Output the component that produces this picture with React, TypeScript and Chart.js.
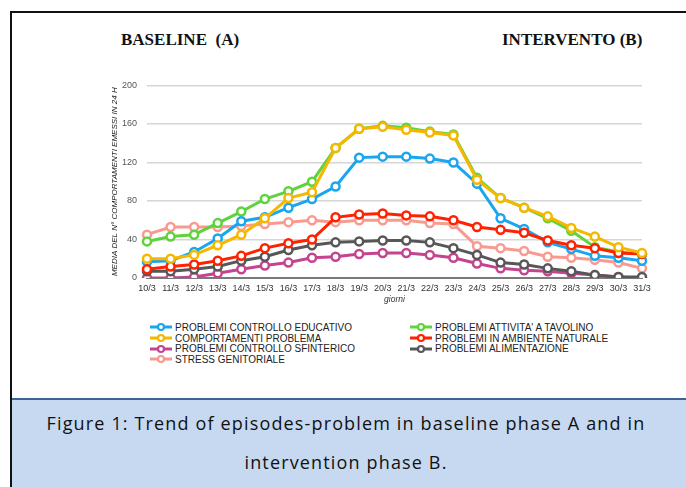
import React, { useEffect, useRef } from "react";
import { Chart, registerables } from "chart.js";
Chart.register(...registerables);

const days = ["10/3","11/3","12/3","13/3","14/3","15/3","16/3","17/3","18/3","19/3","20/3","21/3","22/3","23/3","24/3","25/3","26/3","27/3","28/3","29/3","30/3","31/3"];
const yTicks = [0, 40, 80, 120, 160, 200];

const controlloEducativo = [17, 18, 27, 41, 59, 63, 73, 82, 95, 125, 126, 126, 124, 120, 98, 62, 51, 37, 30, 23, 21, 18];
const attivitaTavolino = [38, 43, 45, 57, 69, 82, 90, 100, 135, 155, 158, 156, 152, 149, 104, 83, 73, 62, 49, 32, 27, 25];
const comportamentiProblema = [20, 20, 24, 34, 45, 62, 83, 89, 135, 155, 157, 154, 151, 148, 102, 83, 73, 64, 52, 43, 32, 26];
const ambienteNaturale = [9, 12, 14, 18, 23, 31, 36, 40, 63, 66, 67, 65, 64, 60, 53, 50, 47, 39, 34, 31, 26, 25];
const controlloSfinterico = [0, 0, 1, 5, 9, 13, 16, 21, 22, 25, 26, 26, 24, 21, 15, 10, 8, 7, 5, 3, 1, 0];
const alimentazione = [7, 7, 9, 12, 18, 22, 29, 34, 37, 38, 39, 39, 37, 31, 24, 16, 14, 10, 7, 3, 1, 1];
const stressGenitoriale = [45, 53, 53, 53, 54, 56, 58, 60, 58, 60, 60, 60, 57, 56, 33, 31, 28, 22, 21, 19, 16, 10];

const seriesNames = [
  "PROBLEMI CONTROLLO EDUCATIVO",
  "PROBLEMI ATTIVITA' A TAVOLINO",
  "COMPORTAMENTI PROBLEMA",
  "PROBLEMI IN AMBIENTE NATURALE",
  "PROBLEMI CONTROLLO SFINTERICO",
  "PROBLEMI ALIMENTAZIONE",
  "STRESS GENITORIALE",
];
const seriesValues = [controlloEducativo, attivitaTavolino, comportamentiProblema, ambienteNaturale, controlloSfinterico, alimentazione, stressGenitoriale];
const seriesColors = ["#1aa6ef", "#5ed33a", "#f5b800", "#ff2200", "#c4448f", "#575757", "#f99a90"];
// drawing order (lower = on top)
const seriesOrder = [4, 6, 1, 2, 5, 3, 7];

const fontSans = "'Liberation Sans', Arial, sans-serif";

function LegendItem({ name, color }: { name: string; color: string }) {
  return (
    <div style={{ display: "flex", alignItems: "center", height: 10.7 }}>
      <svg width={22} height={10} style={{ marginRight: 3 }}>
        <line x1={0} y1={5} x2={22} y2={5} stroke={color} strokeWidth={3} />
        <circle cx={11} cy={5} r={3} fill="#fff" stroke={color} strokeWidth={2.2} />
      </svg>
      <span style={{ fontFamily: fontSans, fontSize: 10, color: "#222", whiteSpace: "nowrap" }}>{name}</span>
    </div>
  );
}

export default function App() {
  const ref = useRef<HTMLCanvasElement | null>(null);
  useEffect(() => {
    if (!ref.current) return;
    const chart = new Chart(ref.current, {
      type: "line",
      data: {
        labels: days,
        datasets: seriesNames.map((n, i) => ({
          label: n,
          data: seriesValues[i],
          borderColor: seriesColors[i],
          backgroundColor: "#ffffff",
          pointBackgroundColor: "#ffffff",
          pointBorderColor: seriesColors[i],
          borderWidth: 3,
          pointRadius: 4,
          pointBorderWidth: 2.5,
          tension: 0,
          order: seriesOrder[i],
        })),
      },
      options: {
        animation: false,
        responsive: false,
        maintainAspectRatio: false,
        layout: { padding: { left: 0, right: 18, top: 12, bottom: 0 } },
        plugins: { legend: { display: false }, tooltip: { enabled: false } },
        scales: {
          x: {
            offset: false,
            grid: { display: false, drawTicks: false },
            border: { display: true, color: "#7a7a7a", width: 2 },
            ticks: { color: "#333", font: { family: fontSans, size: 9 }, padding: 5, maxRotation: 0, autoSkip: false },
            title: { display: true, text: "giorni", color: "#333", font: { family: fontSans, size: 8.5, style: "italic" }, padding: { top: 0, bottom: 5 } },
            afterFit: (s: any) => { s.height = 32; },
          },
          y: {
            min: 0,
            max: 200,
            afterBuildTicks: (s: any) => { s.ticks = yTicks.map((v) => ({ value: v })); },
            grid: { color: "#d6d6d6", lineWidth: 1.5, drawTicks: false },
            border: { display: false },
            ticks: { color: "#555", font: { family: fontSans, size: 9 }, padding: 10 },
            title: { display: true, text: "MEDIA DEL N° COMPORTAMENTI EMESSI IN 24 H", color: "#222", font: { family: fontSans, size: 8, style: "italic" }, padding: { top: 10, bottom: 2 } },
            afterFit: (s: any) => { s.width = 47; },
          },
        },
      },
    });
    return () => chart.destroy();
  }, []);

  const leftCol = [0, 2, 4, 6];
  const rightCol = [1, 3, 5];
  const captionStyle: React.CSSProperties = { position: "absolute", left: 3, width: 686, textAlign: "center", fontFamily: "'Open Sans', sans-serif", fontSize: 18, letterSpacing: 1.15, color: "#111", whiteSpace: "nowrap" };
  const headStyle: React.CSSProperties = { position: "absolute", top: 30, fontFamily: "'Liberation Serif', serif", fontWeight: "bold", fontSize: 17, color: "#111", whiteSpace: "nowrap" };

  return (
    <div style={{ position: "fixed", left: 0, top: 0, width: 686, height: 487, overflow: "hidden", background: "#fff" }}>
      <div style={{ position: "absolute", left: 10, top: 11, width: 700, height: 500, borderLeft: "2px solid #111", borderTop: "2px solid #111" }} />
      <div style={{ ...headStyle, left: 121 }}>BASELINE&nbsp; (A)</div>
      <div style={{ ...headStyle, left: 502 }}>INTERVENTO (B)</div>
      <canvas ref={ref} width={560} height={240} style={{ position: "absolute", left: 100, top: 70, width: 560, height: 240 }} />
      <div style={{ position: "absolute", left: 150, top: 322 }}>
        {leftCol.map((i) => <LegendItem key={i} name={seriesNames[i]} color={seriesColors[i]} />)}
      </div>
      <div style={{ position: "absolute", left: 410, top: 322 }}>
        {rightCol.map((i) => <LegendItem key={i} name={seriesNames[i]} color={seriesColors[i]} />)}
      </div>
      <div style={{ position: "absolute", left: 12, top: 398, width: 700, height: 100, background: "#c6d9f1", borderTop: "2px solid #3d6496" }} />
      <div style={{ ...captionStyle, top: 411 }}>Figure 1: Trend of episodes-problem in baseline phase A and in</div>
      <div style={{ ...captionStyle, top: 450 }}>intervention phase B.</div>
    </div>
  );
}
